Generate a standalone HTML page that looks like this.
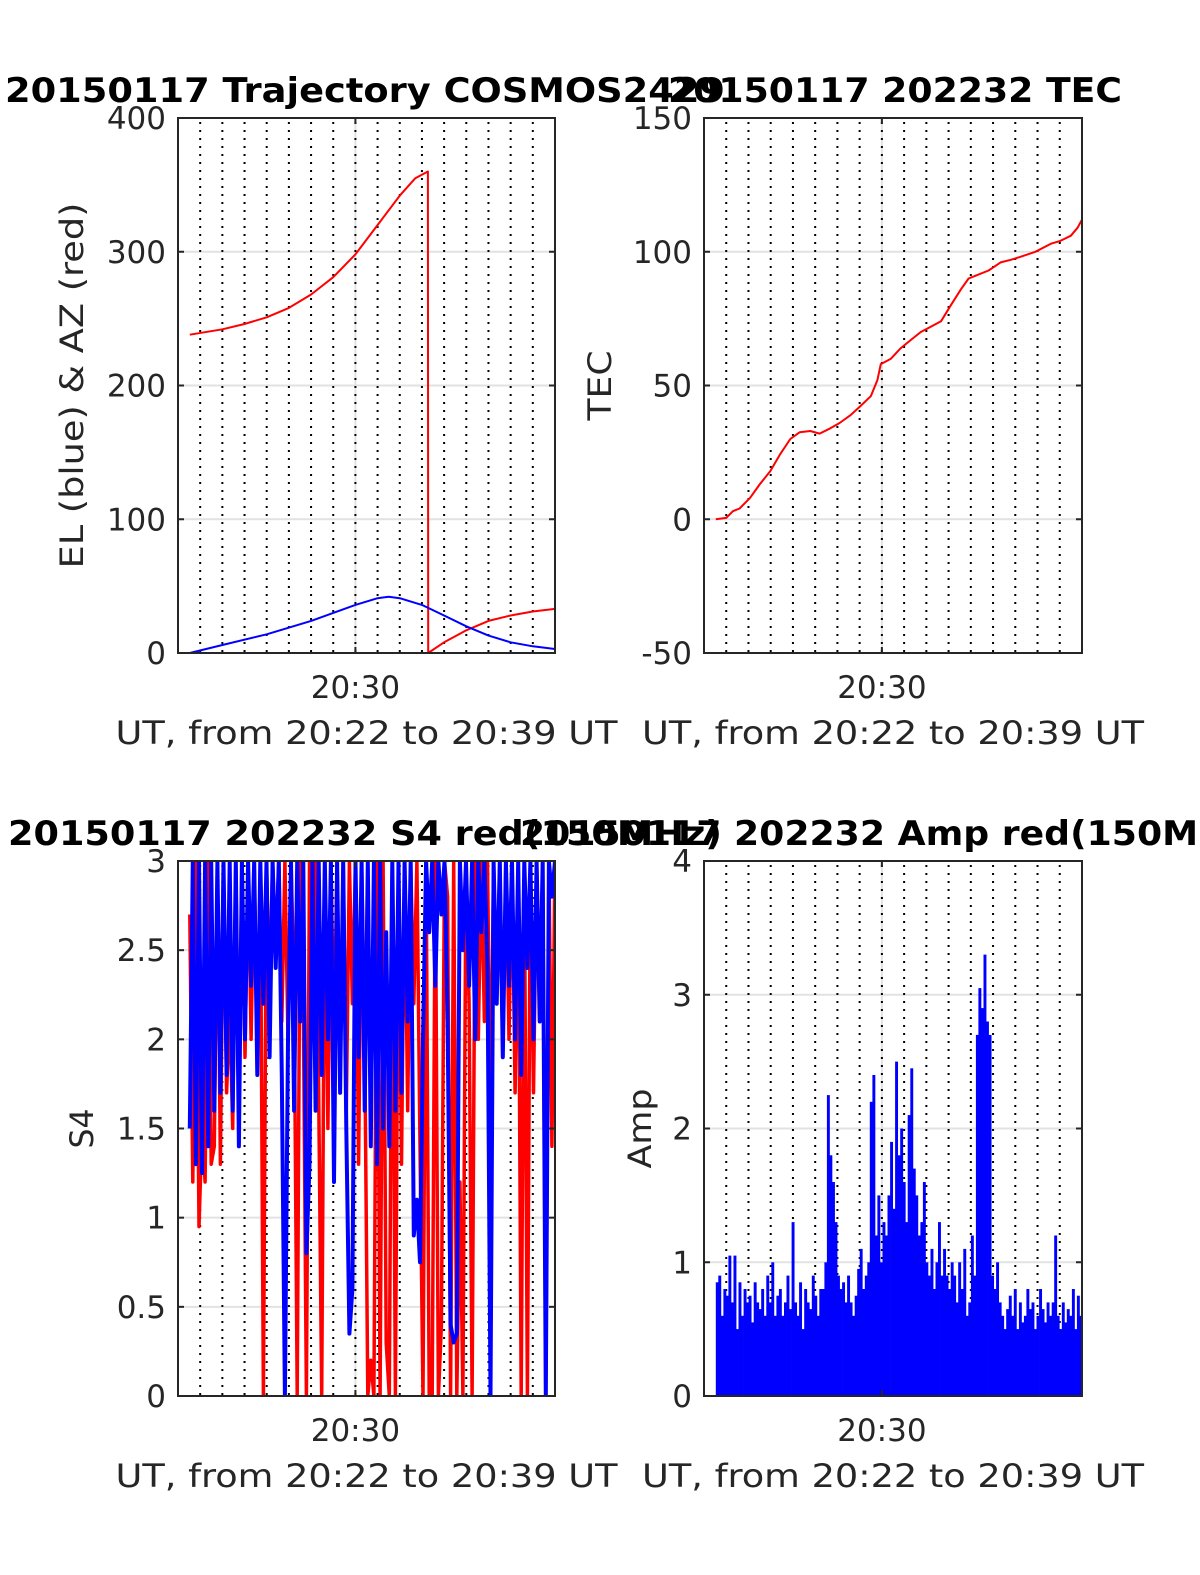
<!DOCTYPE html>
<html><head><meta charset="utf-8"><style>
html,body{margin:0;padding:0;background:#fff;}
svg{display:block;font-family:"DejaVu Sans","Liberation Sans",sans-serif;}
</style></head><body>
<svg id="fig" width="1200" height="1575" viewBox="0 0 1200 1575" xmlns="http://www.w3.org/2000/svg"></svg>
<script>
// ---- data ----
const azTimes = [0.53,2,3,4,5,6,7,8,9,10,10.7,11.27,11.28,12,13,14,15,16,17];
const azValues = [238,242,246,251,258,268,281,298,320,342,355,360,0,8,17,24,28,31,33];
const elTimes = [0.53,2,4,6,7,8,9,9.5,10,11,12,13,14,15,16,17];
const elValues = [0,6,14,24,30,36,41,42,41,36,28,20,13,8,5,3];
const tecTimes = [0.53,1.0,1.3,1.6,2.07,2.5,2.98,3.4,3.88,4.3,4.78,5.2,5.68,6.1,6.6,7.0,7.5,7.8,7.95,8.4,8.85,9.3,9.75,10.2,10.66,11.1,11.56,11.9,12.2,12.8,13.34,13.8,14.2,14.9,15.6,16.0,16.5,16.8,17];
const tecValues = [0,0.5,3,4,8,13,18,24,30,32.5,33,32,34,36,39,42,46,52,58,60,64,67,70,72,74,80,86,90,91,93,96,97,98,100,103,104,106,109,112];
const s4Blue = [1.5,3,1.3,3,1.25,3,1.4,3,1.6,3, 1.7,3,1.8,3,1.6,3,1.4,3,2.0,3, 2.3,3,1.8,3,2.2,3,1.9,3,2.4,3,
 1.8,0,2.0,3,1.6,3,2.1,3,0.8,1.3, 3,1.6,3,1.8,3,2.0,3,1.2,3,1.7, 3,1.5,0.35,0.6,3,1.9,3,1.6,3,1.4,
 3,1.3,3,1.5,2.6,1.4,3,1.6,3,1.7, 3,2.1,3,0.9,1.1,0.75,2.0,3,2.6,3, 2.3,3,2.7,3,2.1,0.4,0.3,0.35,3,2.5,
 3,2.3,3,2.0,3,2.6,3,2.4,0,3, 2.2,3,1.9,3,2.3,3,2.0,3,1.8,3, 2.4,3,2.0,3,2.1,3,0,3,2.8,3];
const s4Red = [2.7,1.2,3,0.95,1.5,1.2,3,1.3,1.4,3, 1.3,3,1.7,2.2,1.5,3,1.6,3,1.9,3, 2.0,3,1.8,3,0,3,2.2,3,2.5,3,
 2.1,3,2.0,3,2.3,0,3,2.2,0,3, 2.4,3,1.7,0,3,1.5,3,2.0,3,1.8, 3,1.6,3,2.2,3,1.3,3,2.0,0,0.2,
 0,3,0,3,0.3,0,3,0,3,1.3, 3,1.6,3,2.2,3,1.4,0,3,0,0, 3,0,0.4,3,2.8,0,3,0,1.2,0,
 3,2.2,0,3,2.0,3,2.1,3,1.5,3, 2.2,3,1.9,3,2.0,3,1.7,3,0,3, 0,3,1.7,3,2.2,3,0,3,1.4,3];
const ampValues = [0.85,0.9,0.6,0.8,0.75,1.05,0.7,1.05,0.5,0.85,0.6,0.8,0.7,0.75,0.55,0.85,0.7,0.65,0.8,0.6,0.9,0.7,
 1.0,0.6,0.75,0.8,0.6,0.7,0.9,0.65,1.3,0.7,0.6,0.85,0.5,0.8,0.7,0.65,0.9,0.75,0.6,0.8,
 0.8,1.0,2.25,1.8,1.6,1.3,0.9,0.8,0.85,0.7,0.9,0.7,0.6,0.75,0.95,1.1,0.8,0.9,
 1.0,2.2,2.4,1.2,1.5,1.0,1.3,1.2,1.5,1.9,1.4,2.5,1.8,2.0,1.6,1.3,2.1,2.45,1.7,1.5,1.2,1.3,1.6,1.0,0.9,1.1,0.8,1.0,1.3,0.9,
 1.1,0.9,0.8,1.0,0.9,0.7,1.0,0.8,1.1,0.6,0.7,1.2,0.9,2.7,3.05,2.9,3.3,2.8,2.7,
 0.9,0.8,1.0,0.7,0.6,0.5,0.65,0.75,0.6,0.8,0.5,0.7,0.55,0.6,0.8,0.65,0.7,0.5,0.6,0.8,0.65,0.55,0.7,0.6,0.7,1.2,0.6,0.5,0.7,0.55,0.65,0.6,0.8,0.5,0.75,0.6,0.7];
const topLeftTicks = [0,100,200,300,400];
const tecTicks = [-50,0,50,100,150];
const s4Ticks = [0,0.5,1,1.5,2,2.5,3];
const s4TickLabels = ["0","0.5","1","1.5","2","2.5","3"];
const ampTicks = [0,1,2,3,4];
const xTickLabel = "20:30";

const NS = "http://www.w3.org/2000/svg";
const svg = document.getElementById('fig');
function mk(tag, attrs, parent){ const e=document.createElementNS(NS,tag); for(const k in attrs) e.setAttribute(k,attrs[k]); (parent||svg).appendChild(e); return e; }

function makeAxes(name, L, T, R, B, ymin, ymax, ticks, tickLabels, title, titleCx, titleW, ylabel, ylabelX, ylabelLen){
  const g = mk('g',{});
  
  
  const X = t => L + (t/17)*(R-L);
  const Y = v => B - (v-ymin)/(ymax-ymin)*(B-T);
  const cid = name+'-clip';
  const cp = mk('clipPath',{id:cid},g); mk('rect',{x:L,y:T,width:R-L,height:B-T},cp);
  ticks.forEach(v=>{ if(v!==ymin && v!==ymax){ const l=mk('line',{x1:L,x2:R,y1:Y(v),y2:Y(v),stroke:'#e2e2e2','stroke-width':2},g);
      }});
  const gl = mk('line',{x1:X(8),x2:X(8),y1:T,y2:B,stroke:'#e2e2e2','stroke-width':2},g);
   
  for(let m=1;m<17;m++){ const d=mk('line',{x1:X(m),x2:X(m),y1:T+4,y2:B,stroke:'#000','stroke-width':2,'stroke-dasharray':'2 6'},g);
      }
  const plot = mk('g',{'clip-path':'url(#'+cid+')'},g);
   
  const box = mk('rect',{x:L,y:T,width:R-L,height:B-T,fill:'none',stroke:'#262626','stroke-width':2},g);
   
  ticks.forEach((v,i)=>{
    mk('line',{x1:L,x2:L+6,y1:Y(v),y2:Y(v),stroke:'#262626','stroke-width':2},g);
    mk('line',{x1:R,x2:R-6,y1:Y(v),y2:Y(v),stroke:'#262626','stroke-width':2},g);
    const t=mk('text',{x:L-12,y:Y(v)+11,'text-anchor':'end','font-size':31,fill:'#262626'},g);
    t.textContent = tickLabels[i];
     
  });
  mk('line',{x1:X(8),x2:X(8),y1:B,y2:B-6,stroke:'#262626','stroke-width':2},g);
  mk('line',{x1:X(8),x2:X(8),y1:T,y2:T+6,stroke:'#262626','stroke-width':2},g);
  const xt=mk('text',{x:X(8),y:B+45,'text-anchor':'middle','font-size':31,fill:'#262626'},g);
  xt.textContent = xTickLabel;
   
  const xl=mk('text',{x:(L+R)/2,y:B+91,'text-anchor':'middle','font-size':32,fill:'#262626',textLength:502,lengthAdjust:'spacingAndGlyphs'},g);
  xl.textContent = "UT, from 20:22 to 20:39 UT";
   
  const yl=mk('text',{x:0,y:0,'text-anchor':'middle','font-size':32,fill:'#262626',transform:'translate('+ylabelX+','+((T+B)/2)+') rotate(-90)',textLength:ylabelLen,lengthAdjust:'spacingAndGlyphs'},g);
  yl.textContent = ylabel;
   
  const tt=mk('text',{x:titleCx,y:T-16,'text-anchor':'middle','font-size':34,'font-weight':'bold',fill:'#000',textLength:titleW,lengthAdjust:'spacingAndGlyphs'},g);
  tt.textContent = title;
   
  return {X,Y,plot};
}
function line(ax, ts, vs, color, w, name){
  const pts = ts.map((t,i)=>ax.X(t).toFixed(1)+','+ax.Y(vs[i]).toFixed(1)).join(' ');
  const p = mk('polyline',{points:pts,fill:'none',stroke:color,'stroke-width':w,'stroke-linejoin':'round'},ax.plot);
  
  
}
const idxTimes = n => Array.from({length:n},(_,i)=>0.53+i*(16.47/(n-1)));

const a1 = makeAxes('trajectory-chart',178,118,555,653,0,400,topLeftTicks,topLeftTicks.map(String),
  '20150117 Trajectory COSMOS2429',365,720,'EL (blue) & AZ (red)',83,366);
line(a1, azTimes, azValues, '#ff0000', 2, 'azimuth-line');
line(a1, elTimes, elValues, '#0000ff', 2, 'elevation-line');

const a2 = makeAxes('tec-chart',704,118,1082,653,-50,150,tecTicks,tecTicks.map(String),
  '20150117 202232 TEC',895,454,'TEC',611,70);
line(a2, tecTimes, tecValues, '#ff0000', 2, 'tec-line');

const a3 = makeAxes('s4-chart',178,861,555,1396,0,3,s4Ticks,s4TickLabels,
  '20150117 202232 S4 red(150MHz)',365,714,'S4',93,40);
line(a3, idxTimes(s4Red.length), s4Red, '#ff0000', 3.5, 's4-red-line');
line(a3, idxTimes(s4Blue.length), s4Blue, '#0000ff', 4, 's4-blue-line');

const a4 = makeAxes('amp-chart',704,861,1082,1396,0,4,ampTicks,ampTicks.map(String),
  '20150117 202232 Amp red(150MHz)',893,746,'Amp',651,80);
const at = idxTimes(ampValues.length);
const bw = (a4.X(at[1])-a4.X(at[0]))+0.4;
ampValues.forEach((v,i)=>{
  const r = mk('rect',{x:(a4.X(at[i])).toFixed(1),y:a4.Y(v).toFixed(1),width:bw.toFixed(2),height:(a4.Y(0)-a4.Y(v)).toFixed(1),fill:'#0000ff'},a4.plot);
  
  
});
</script>
</body></html>
